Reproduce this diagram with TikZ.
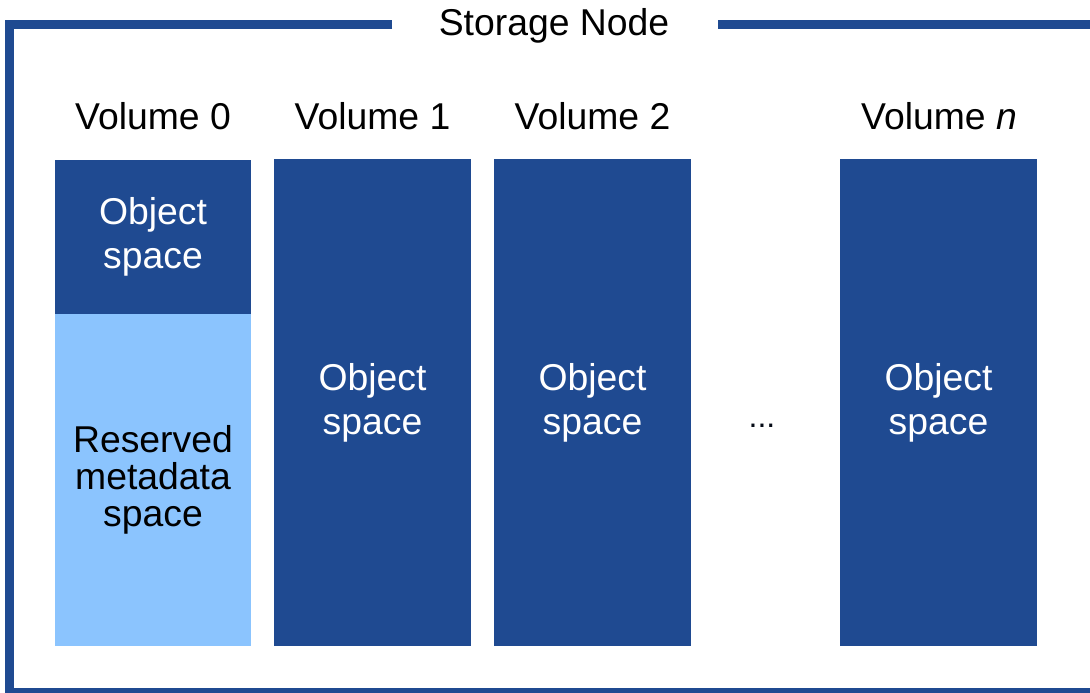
\documentclass[tikz,border=0pt]{standalone}
\usepackage{fontspec}
\setmainfont{Liberation Sans}
\definecolor{dblue}{HTML}{1F4A91}
\definecolor{lblue}{HTML}{8BC4FE}
\begin{document}
\begin{tikzpicture}[x=0.75pt,y=-0.75pt,
  frame/.style={draw=dblue,line width=6.75pt},
  darkbox/.style={fill=dblue,draw=none,text=white,inner sep=0pt,align=center,font=\fontsize{28}{33}\selectfont},
  lightbox/.style={fill=lblue,draw=none,text=black,inner sep=0pt,align=center,font=\fontsize{28}{27.75}\selectfont},
  vlabel/.style={anchor=base,inner sep=0pt,font=\fontsize{28}{33}\selectfont},
  fullcol/.style={minimum width=147.75pt,minimum height=365.25pt}]
\useasboundingbox (0,0) rectangle (1090,693);
\fill[white] (0,0) rectangle (1090,693);
% title and frame
\node[vlabel] (title) at (554,35) {Storage Node};
\coordinate (tl1) at (392,24.5);
\coordinate (tr1) at (718,24.5);
\begin{scope}
\clip (0,0) rectangle (1090,693);
\draw[frame] (tl1) -- (9.5,24.5) -- (9.5,692.5) -- (1100,692.5);
\draw[frame] (tr1) -- (1100,24.5);
\end{scope}
% volume labels
\node[vlabel] (l0) at (153,129) {Volume 0};
\node[vlabel] (l1) at (372.5,129) {Volume 1};
\node[vlabel] (l2) at (592.5,129) {Volume 2};
\node[vlabel] (ln) at (939,129) {Volume \textit{n}};
% volume 0
\node[darkbox,minimum width=147pt,minimum height=115.5pt] (v0top) at (153,237) {Object\\space};
\node[lightbox,minimum width=147pt,minimum height=249pt] (v0bot) at (153,480) {Reserved\\metadata\\space};
% other volumes
\node[darkbox,fullcol] (v1) at (372.5,402.5) {Object\\space};
\node[darkbox,fullcol] (v2) at (592.5,402.5) {Object\\space};
\node[darkbox,fullcol] (vn) at (938.5,402.5) {Object\\space};
\node[anchor=base,inner sep=0pt,font=\fontsize{24}{24}\selectfont,text=black!85!dblue] (dots) at (762,427) {...};
\end{tikzpicture}
\end{document}
